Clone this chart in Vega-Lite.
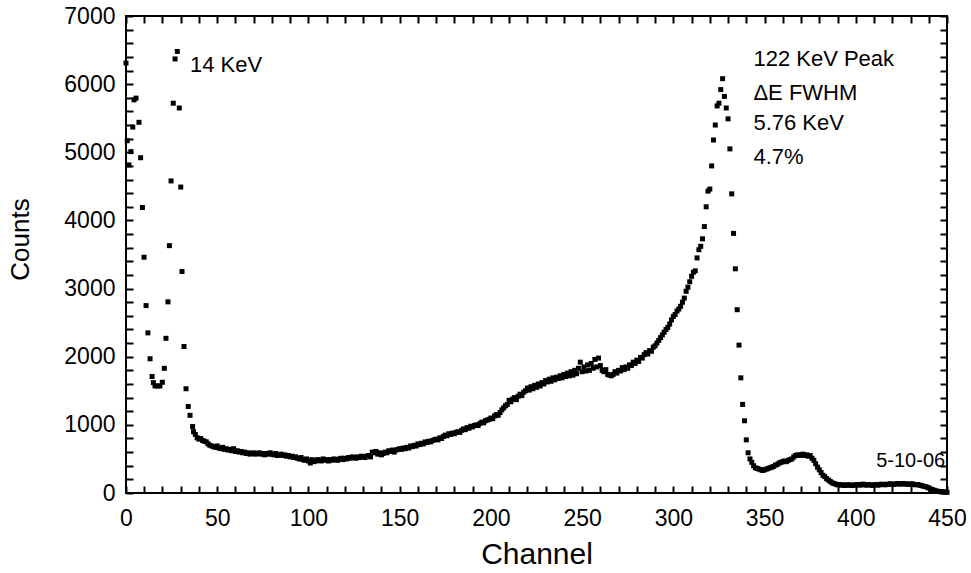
{
"$schema":"https://vega.github.io/schema/vega-lite/v6.json",
"width":821,"height":477,
"autosize":{"type":"none"},
"padding":{"left":126,"top":16,"right":24,"bottom":80},
"background":"white",
"config":{"view":{"stroke":"black","strokeWidth":2},"font":"Liberation Sans","axis":{"grid":false,"domain":false,"labelColor":"black","titleColor":"black"}},
"data":{"values":[
{"c":0,"n":6310},{"c":0.7,"n":5170},{"c":1.6,"n":4815},{"c":2.7,"n":5010},{"c":3.7,"n":5370},{"c":4.4,"n":5770},{"c":5.5,"n":5795},{"c":7.1,"n":5440},{"c":8,"n":4920},{"c":9,"n":4190},{"c":9.9,"n":3460},{"c":11,"n":2750},{"c":12,"n":2350},{"c":13.2,"n":1970},{"c":14.3,"n":1710},{"c":15,"n":1620},{"c":15.9,"n":1571},{"c":17.2,"n":1571},{"c":18.6,"n":1571},{"c":19.9,"n":1625},{"c":21,"n":1830},{"c":21.9,"n":2270},{"c":23,"n":2805},{"c":23.8,"n":3630},{"c":24.7,"n":4580},{"c":25.9,"n":5720},{"c":26.9,"n":6370},{"c":28.1,"n":6480},{"c":29.2,"n":5650},{"c":30,"n":4490},{"c":30.7,"n":3250},{"c":31.8,"n":2150},{"c":32.9,"n":1530},{"c":34.1,"n":1270},{"c":35.1,"n":1140},{"c":36.5,"n":975},
{"c":37,"n":900},{"c":38,"n":860},{"c":39,"n":810},{"c":40,"n":790},{"c":41,"n":800},{"c":42,"n":770},{"c":43,"n":760},{"c":44,"n":750},{"c":45,"n":720},{"c":46,"n":700},{"c":47,"n":690},{"c":48,"n":680},{"c":49,"n":670},{"c":50,"n":690},
{"c":51,"n":660},{"c":52,"n":650},{"c":53,"n":670},{"c":54,"n":640},{"c":55,"n":650},{"c":56,"n":630},{"c":57,"n":640},{"c":58,"n":620},{"c":59,"n":650},{"c":60,"n":610},
{"c":61,"n":620},{"c":62,"n":600},{"c":63,"n":610},{"c":64,"n":590},{"c":65,"n":600},{"c":66,"n":580},{"c":67,"n":590},{"c":68,"n":570},{"c":69,"n":580},{"c":70,"n":590},
{"c":71,"n":570},{"c":72,"n":580},{"c":73,"n":590},{"c":74,"n":570},{"c":75,"n":580},{"c":76,"n":560},{"c":77,"n":580},{"c":78,"n":570},{"c":79,"n":590},{"c":80,"n":570},
{"c":81,"n":560},{"c":82,"n":580},{"c":83,"n":550},{"c":84,"n":560},{"c":85,"n":570},{"c":86,"n":550},{"c":87,"n":560},{"c":88,"n":540},{"c":89,"n":550},{"c":90,"n":530},
{"c":91,"n":540},{"c":92,"n":520},{"c":93,"n":530},{"c":94,"n":510},{"c":95,"n":500},{"c":96,"n":520},{"c":97,"n":490},{"c":98,"n":480},{"c":99,"n":500},{"c":100,"n":470},
{"c":101,"n":440},{"c":102,"n":490},{"c":103,"n":460},{"c":104,"n":470},{"c":105,"n":490},{"c":106,"n":480},{"c":107,"n":470},{"c":108,"n":500},{"c":109,"n":480},{"c":110,"n":490},
{"c":111,"n":470},{"c":112,"n":490},{"c":113,"n":480},{"c":114,"n":500},{"c":115,"n":490},{"c":116,"n":480},{"c":117,"n":500},{"c":118,"n":510},{"c":119,"n":490},{"c":120,"n":510},
{"c":121,"n":500},{"c":122,"n":520},{"c":123,"n":510},{"c":124,"n":530},{"c":125,"n":520},{"c":126,"n":510},{"c":127,"n":530},{"c":128,"n":520},{"c":129,"n":540},{"c":130,"n":530},
{"c":131,"n":520},{"c":132,"n":540},{"c":133,"n":550},{"c":134,"n":530},{"c":135,"n":600},{"c":136,"n":590},{"c":137,"n":610},{"c":138,"n":570},{"c":139,"n":590},{"c":140,"n":560},
{"c":141,"n":580},{"c":142,"n":600},{"c":143,"n":590},{"c":144,"n":620},{"c":145,"n":610},{"c":146,"n":630},{"c":147,"n":600},{"c":148,"n":630},{"c":149,"n":640},{"c":150,"n":650},
{"c":151,"n":640},{"c":152,"n":660},{"c":153,"n":650},{"c":154,"n":670},{"c":155,"n":660},{"c":156,"n":690},{"c":157,"n":680},{"c":158,"n":700},{"c":159,"n":690},{"c":160,"n":720},
{"c":161,"n":710},{"c":162,"n":730},{"c":163,"n":720},{"c":164,"n":750},{"c":165,"n":740},{"c":166,"n":760},{"c":167,"n":750},{"c":168,"n":770},{"c":169,"n":780},{"c":170,"n":790},
{"c":171,"n":780},{"c":172,"n":810},{"c":173,"n":800},{"c":174,"n":830},{"c":175,"n":850},{"c":176,"n":840},{"c":177,"n":870},{"c":178,"n":860},{"c":179,"n":880},{"c":180,"n":870},
{"c":181,"n":890},{"c":182,"n":900},{"c":183,"n":890},{"c":184,"n":920},{"c":185,"n":940},{"c":186,"n":930},{"c":187,"n":960},{"c":188,"n":950},{"c":189,"n":980},{"c":190,"n":970},
{"c":191,"n":990},{"c":192,"n":1000},{"c":193,"n":990},{"c":194,"n":1020},{"c":195,"n":1040},{"c":196,"n":1030},{"c":197,"n":1060},{"c":198,"n":1070},{"c":199,"n":1080},{"c":200,"n":1100},
{"c":201,"n":1090},{"c":202,"n":1130},{"c":203,"n":1150},{"c":204,"n":1140},{"c":205,"n":1180},{"c":206,"n":1220},{"c":207,"n":1250},{"c":208,"n":1280},{"c":209,"n":1300},{"c":210,"n":1360},
{"c":211,"n":1340},{"c":212,"n":1380},{"c":213,"n":1400},{"c":214,"n":1370},{"c":215,"n":1420},{"c":216,"n":1450},{"c":217,"n":1430},{"c":218,"n":1480},{"c":219,"n":1500},{"c":220,"n":1540},
{"c":221,"n":1510},{"c":222,"n":1560},{"c":223,"n":1530},{"c":224,"n":1580},{"c":225,"n":1550},{"c":226,"n":1600},{"c":227,"n":1570},{"c":228,"n":1620},{"c":229,"n":1600},{"c":230,"n":1650},
{"c":231,"n":1630},{"c":232,"n":1670},{"c":233,"n":1640},{"c":234,"n":1690},{"c":235,"n":1660},{"c":236,"n":1700},{"c":237,"n":1680},{"c":238,"n":1720},{"c":239,"n":1690},{"c":240,"n":1740},
{"c":241,"n":1710},{"c":242,"n":1760},{"c":243,"n":1720},{"c":244,"n":1780},{"c":245,"n":1730},{"c":246,"n":1800},{"c":247,"n":1750},{"c":248,"n":1830},{"c":249,"n":1920},{"c":250,"n":1780},
{"c":251,"n":1850},{"c":252,"n":1790},{"c":253,"n":1880},{"c":254,"n":1800},{"c":255,"n":1900},{"c":256,"n":1830},{"c":257,"n":1960},{"c":258,"n":1850},{"c":259,"n":1980},{"c":260,"n":1870},
{"c":261,"n":1800},{"c":262,"n":1780},{"c":263,"n":1810},{"c":264,"n":1740},{"c":265,"n":1730},{"c":266,"n":1720},{"c":267,"n":1740},{"c":268,"n":1780},{"c":269,"n":1760},{"c":270,"n":1800},
{"c":271,"n":1790},{"c":272,"n":1840},{"c":273,"n":1810},{"c":274,"n":1850},{"c":275,"n":1830},{"c":276,"n":1880},{"c":277,"n":1870},{"c":278,"n":1920},{"c":279,"n":1900},{"c":280,"n":1950},
{"c":281,"n":1930},{"c":282,"n":1990},{"c":283,"n":1980},{"c":284,"n":2030},{"c":285,"n":2060},{"c":286,"n":2040},{"c":287,"n":2090},{"c":288,"n":2080},{"c":289,"n":2140},{"c":290,"n":2160},
{"c":291,"n":2200},{"c":292,"n":2240},{"c":293,"n":2280},{"c":294,"n":2320},{"c":295,"n":2360},{"c":296,"n":2400},{"c":297,"n":2430},{"c":298,"n":2480},{"c":299,"n":2540},{"c":300,"n":2590},
{"c":301,"n":2620},{"c":302,"n":2670},{"c":303,"n":2700},{"c":304,"n":2740},{"c":305,"n":2800},{"c":306,"n":2860},{"c":307,"n":2960},{"c":308,"n":3020},{"c":309,"n":3100},{"c":310,"n":3180},
{"c":311,"n":3240},{"c":312,"n":3260},{"c":313,"n":3450},{"c":314,"n":3570},{"c":315,"n":3620},{"c":316,"n":3730},{"c":317,"n":3910},{"c":318,"n":4200},{"c":319,"n":4430},{"c":320,"n":4460},
{"c":321,"n":4800},{"c":322,"n":5180},{"c":323,"n":5400},{"c":324,"n":5680},{"c":325,"n":5720},{"c":326,"n":5920},{"c":327,"n":6080},{"c":328,"n":5820},{"c":329,"n":5650},{"c":330,"n":5490},
{"c":331,"n":5050},{"c":332,"n":4390},{"c":333,"n":3810},{"c":334,"n":3290},{"c":335,"n":2690},{"c":336,"n":2170},{"c":337,"n":1690},{"c":338,"n":1300},{"c":339,"n":1060},{"c":340,"n":780},
{"c":341,"n":590},{"c":342,"n":500},{"c":343,"n":450},{"c":344,"n":400},{"c":345,"n":370},{"c":346,"n":360},{"c":347,"n":350},{"c":348,"n":340},{"c":349,"n":330},{"c":350,"n":340},
{"c":351,"n":350},{"c":352,"n":360},{"c":353,"n":370},{"c":354,"n":380},{"c":355,"n":390},{"c":356,"n":410},{"c":357,"n":420},{"c":358,"n":440},{"c":359,"n":450},{"c":360,"n":460},
{"c":361,"n":470},{"c":362,"n":460},{"c":363,"n":480},{"c":364,"n":490},{"c":365,"n":500},{"c":366,"n":530},{"c":367,"n":550},{"c":368,"n":560},{"c":369,"n":550},{"c":370,"n":560},
{"c":371,"n":570},{"c":372,"n":550},{"c":373,"n":560},{"c":374,"n":540},{"c":375,"n":550},{"c":376,"n":510},{"c":377,"n":480},{"c":378,"n":430},{"c":379,"n":380},{"c":380,"n":340},
{"c":381,"n":300},{"c":382,"n":260},{"c":383,"n":240},{"c":384,"n":210},{"c":385,"n":190},{"c":386,"n":170},{"c":387,"n":150},{"c":388,"n":140},{"c":389,"n":130},{"c":390,"n":120},
{"c":391,"n":125},{"c":392,"n":115},{"c":393,"n":120},{"c":394,"n":110},{"c":395,"n":120},{"c":396,"n":115},{"c":397,"n":120},{"c":398,"n":110},{"c":399,"n":115},{"c":400,"n":120},
{"c":401,"n":125},{"c":402,"n":115},{"c":403,"n":120},{"c":404,"n":130},{"c":405,"n":120},{"c":406,"n":115},{"c":407,"n":125},{"c":408,"n":120},{"c":409,"n":110},{"c":410,"n":120},
{"c":411,"n":125},{"c":412,"n":115},{"c":413,"n":120},{"c":414,"n":130},{"c":415,"n":125},{"c":416,"n":120},{"c":417,"n":130},{"c":418,"n":125},{"c":419,"n":135},{"c":420,"n":130},
{"c":421,"n":125},{"c":422,"n":135},{"c":423,"n":140},{"c":424,"n":130},{"c":425,"n":135},{"c":426,"n":140},{"c":427,"n":130},{"c":428,"n":135},{"c":429,"n":125},{"c":430,"n":130},
{"c":431,"n":135},{"c":432,"n":125},{"c":433,"n":120},{"c":434,"n":125},{"c":435,"n":115},{"c":436,"n":110},{"c":437,"n":100},{"c":438,"n":95},{"c":439,"n":85},{"c":440,"n":75},
{"c":441,"n":60},{"c":442,"n":50},{"c":443,"n":40},{"c":444,"n":30},{"c":445,"n":25},{"c":446,"n":20},{"c":447,"n":20},{"c":448,"n":15},{"c":449,"n":15},{"c":450,"n":10},
{"c":35.1,"n":6182,"t":"14 KeV"},
{"c":343.9,"n":6260,"t":"122 KeV Peak"},
{"c":343.9,"n":5771,"t":"ΔE FWHM"},
{"c":343.9,"n":5320,"t":"5.76 KeV"},
{"c":343.9,"n":4831,"t":"4.7%"},
{"c":411.2,"n":377,"t":"5-10-06"}
]},
"resolve":{"axis":{"x":"independent","y":"independent"}},
"layer":[
{
 "mark":{"type":"point","shape":"square","filled":true,"size":25,"color":"black"},
 "encoding":{
  "x":{"field":"c","type":"quantitative","scale":{"domain":[0,450],"nice":false,"zero":false},
       "axis":{"orient":"bottom","values":[0,50,100,150,200,250,300,350,400,450],"format":"d","ticks":false,"labelFontSize":23,"labelPadding":14,"labelFlush":false,"labelOverlap":false,"title":"Channel","titleFontSize":30,"titleFontWeight":"normal","titleBaseline":"alphabetic","titleY":70}},
  "y":{"field":"n","type":"quantitative","scale":{"domain":[0,7000],"nice":false},
       "axis":{"orient":"left","values":[0,1000,2000,3000,4000,5000,6000,7000],"format":"d","ticks":false,"labelFontSize":23,"labelPadding":11,"labelFlush":false,"labelOverlap":false,"title":"Counts","titleFontSize":26,"titleFontWeight":"normal","titleX":-93,"titleY":223}},
  "opacity":{"condition":{"test":"datum.t","value":0},"value":1}
 }},
{
 "mark":{"type":"text","align":"left","baseline":"alphabetic","fontSize":22,"color":"black","font":"Liberation Sans"},
 "encoding":{
  "x":{"field":"c","type":"quantitative","axis":{"orient":"top","values":[0,10,20,30,40,50,60,70,80,90,100,110,120,130,140,150,160,170,180,190,200,210,220,230,240,250,260,270,280,290,300,310,320,330,340,350,360,370,380,390,400,410,420,430,440,450],"labels":false,"ticks":true,"tickColor":"#000000","tickSize":-7,"tickWidth":2,"title":null,"zindex":5}},
  "y":{"field":"n","type":"quantitative","axis":{"orient":"right","values":[0,200,400,600,800,1000,1200,1400,1600,1800,2000,2200,2400,2600,2800,3000,3200,3400,3600,3800,4000,4200,4400,4600,4800,5000,5200,5400,5600,5800,6000,6200,6400,6600,6800,7000],"labels":false,"ticks":true,"tickColor":"#000000","tickSize":-7,"tickWidth":2,"title":null,"zindex":5}},
  "text":{"condition":{"test":"datum.t && datum.t != '5-10-06'","field":"t"},"value":""}
 }},
{
 "mark":{"type":"text","align":"left","baseline":"alphabetic","fontSize":20,"color":"black","font":"Liberation Sans"},
 "encoding":{
  "x":{"field":"c","type":"quantitative","axis":{"orient":"bottom","offset":-7,"values":[0,10,20,30,40,50,60,70,80,90,100,110,120,130,140,150,160,170,180,190,200,210,220,230,240,250,260,270,280,290,300,310,320,330,340,350,360,370,380,390,400,410,420,430,440,450],"labels":false,"ticks":true,"tickColor":"#000000","tickSize":7,"tickWidth":2,"title":null,"zindex":5}},
  "y":{"field":"n","type":"quantitative","axis":{"orient":"left","offset":-7,"values":[0,200,400,600,800,1000,1200,1400,1600,1800,2000,2200,2400,2600,2800,3000,3200,3400,3600,3800,4000,4200,4400,4600,4800,5000,5200,5400,5600,5800,6000,6200,6400,6600,6800,7000],"labels":false,"ticks":true,"tickColor":"#000000","tickSize":7,"tickWidth":2,"title":null,"zindex":5}},
  "text":{"condition":{"test":"datum.t == '5-10-06'","field":"t"},"value":""}
 }}
]
}
